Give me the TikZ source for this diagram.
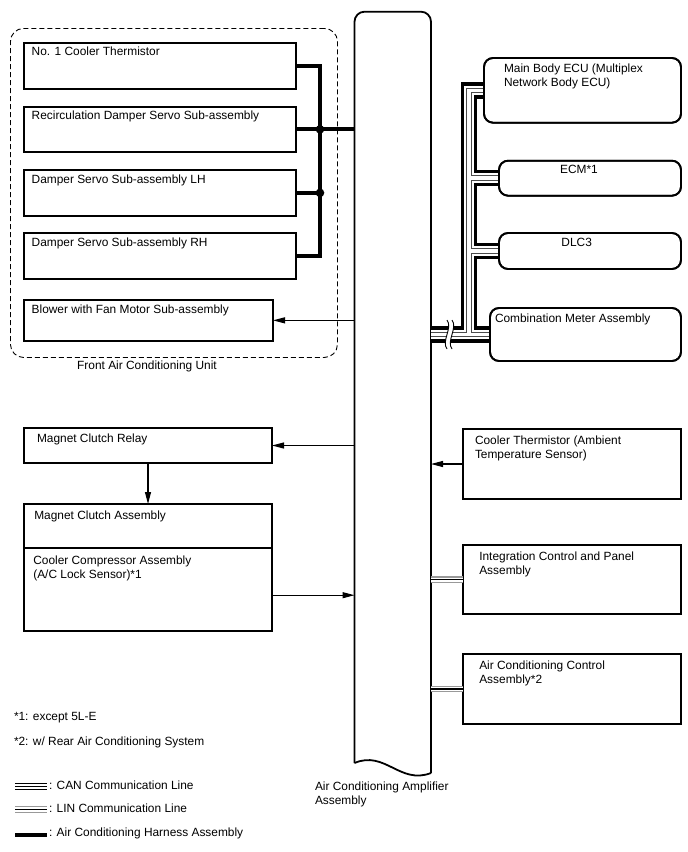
\documentclass[tikz,border=0pt]{standalone}
\usepackage{fontspec}
\setmainfont{Liberation Sans}
\usetikzlibrary{arrows.meta,calc}
\newcommand{\twoline}[2]{\vtop{\hbox{#1}\hbox{#2}}}
\begin{document}
\begin{tikzpicture}[x=1pt,y=-1pt,
  font=\fontsize{11.9}{14}\selectfont,
  box/.style={draw, line width=1.8pt, fill=white, inner sep=0pt, outer sep=0pt, anchor=north west},
  rbox/.style={box, rounded corners=9pt},
  lbl/.style={anchor=base west, inner sep=0pt, outer sep=0pt},
  clbl/.style={anchor=base, inner sep=0pt, outer sep=0pt},
  harness/.style={line width=3.8pt, line join=miter},
  arr/.style={-{Triangle[length=12pt,width=6pt]}, line width=1.1pt},
  canbus/.style={line width=16.5pt, line join=miter, draw=black,
     postaction={draw=white, line width=9.5pt},
     postaction={draw=gray!60!black, line width=5.5pt},
     postaction={draw=white, line width=3.5pt}},
  linbus/.style={line width=6.5pt, draw=gray!80,
     postaction={draw=white, line width=4pt},
     postaction={draw=black, line width=1.2pt}},
  canlg/.style={line width=7pt, draw=black,
     postaction={draw=white, line width=4.6pt},
     postaction={draw=black, line width=1.2pt}},
  linlg/.style={line width=7pt, draw=gray!80,
     postaction={draw=white, line width=4.6pt},
     postaction={draw=black, line width=1.2pt}}
]
\useasboundingbox (0,0) rectangle (688,852);

% amplifier
\node[inner sep=0pt, outer sep=0pt, minimum width=76.5pt, minimum height=755pt, anchor=north west] (amp) at (354.5,11.7) {};
\draw[line width=1.8pt, rounded corners=10pt] (354.5,763) -- (amp.north west) -- (amp.north east) -- (431,773);
\draw[line width=1.8pt] (354.5,763) .. controls (385,750) and (400,785) .. (431,773);

% front unit container
\node[draw, dashed, dash pattern=on 5pt off 3pt, line width=0.9pt, rounded corners=13pt,
      inner sep=0pt, minimum width=327pt, minimum height=329pt, anchor=north west] (fau) at (10,28) {};

% front unit boxes
\node[box, minimum width=272pt, minimum height=46.3pt] (no1) at (24,42.7) {};
\node[box, minimum width=272pt, minimum height=45.3pt] (rec) at (24,106.7) {};
\node[box, minimum width=272pt, minimum height=45.7pt] (lh) at (24,170) {};
\node[box, minimum width=272pt, minimum height=46pt] (rh) at (24,233) {};
\node[box, minimum width=249pt, minimum height=40.7pt] (blw) at (24,300) {};

% harness
\coordinate (busx) at (320,0);
\draw[harness] (no1.east) -| (busx |- rh.east) -- (rh.east);
\draw[harness] (rec.east) -- (amp.west |- rec.east);
\draw[harness] (lh.east) -- (busx |- lh.east);
\fill (busx |- rec.east) circle (4.3);
\fill (busx |- lh.east) circle (4.3);

% lower left
\node[box, minimum width=248pt, minimum height=35pt] (rly) at (24,428) {};
\node[box, minimum width=248pt, minimum height=43.7pt] (mca) at (24,504) {};
\node[box, minimum width=248pt, minimum height=83pt] (cca) at (24,547.7) {};

% right side
\coordinate (canx) at (469,0);
\node[rbox, minimum width=197pt, minimum height=64.7pt] (ecu) at (484,58) {};
\node[rbox, minimum width=182pt, minimum height=35pt] (ecm) at (499,160.7) {};
\node[rbox, minimum width=182pt, minimum height=36pt] (dlc) at (499,233) {};
\node[rbox, minimum width=191pt, minimum height=53pt] (cmb) at (490,308) {};
\draw[canbus] (amp.east |- cmb.west) -- (cmb.west)
  (canx |- cmb.west) -- (canx |- ecu.west) -- (ecu.west)
  (canx |- ecm.west) -- (ecm.west)
  (canx |- dlc.west) -- (dlc.west);
% redraw box borders over bus ends
\draw[line width=1.8pt, rounded corners=9pt] (ecu.north west) rectangle (ecu.south east);
\draw[line width=1.8pt, rounded corners=9pt] (ecm.north west) rectangle (ecm.south east);
\draw[line width=1.8pt, rounded corners=9pt] (dlc.north west) rectangle (dlc.south east);
\draw[line width=1.8pt, rounded corners=9pt] (cmb.north west) rectangle (cmb.south east);
% break mark
\coordinate (brk) at (449.5,334.5);
\fill[white] (447,320) .. controls (453,328) and (441,341) .. (447,349) -- (452,349) .. controls (446,341) and (458,328) .. (452,320) -- cycle;
\draw[line width=0.9pt] (447,320) .. controls (453,328) and (441,341) .. (447,349);
\draw[line width=0.9pt] (452,320) .. controls (458,328) and (446,341) .. (452,349);

\node[box, minimum width=218pt, minimum height=70pt] (cth) at (462.7,429) {};
\node[box, minimum width=218pt, minimum height=69pt] (icp) at (462.7,545) {};
\node[box, minimum width=218pt, minimum height=70pt] (acc) at (462.7,654) {};
\draw[linbus] (amp.east |- icp.west) -- (icp.west);
\draw[linbus] (amp.east |- acc.west) -- (acc.west);

% arrows
\draw[arr] (amp.west |- blw.east) -- (blw.east);
\draw[arr] (amp.west |- rly.east) -- (rly.east);
\draw[arr] (rly.south) -- (mca.north);
\coordinate (ccaout) at ([yshift=-6pt]cca.east);
\draw[arr] (ccaout) -- (amp.west |- ccaout);
\draw[arr] (cth.west) -- (amp.east |- cth.west);

% labels
\node[lbl] (t1) at (31.7,55) {No. 1 Cooler Thermistor};
\node[lbl] (t2) at (31.7,119) {Recirculation Damper Servo Sub-assembly};
\node[lbl] (t3) at (31.7,183.3) {Damper Servo Sub-assembly LH};
\node[lbl] (t4) at (31.7,246.7) {Damper Servo Sub-assembly RH};
\node[lbl] (t5) at (31.7,313.3) {Blower with Fan Motor Sub-assembly};
\node[clbl] (t6) at (147,369) {Front Air Conditioning Unit};
\node[lbl] (t7) at (37,442.7) {Magnet Clutch Relay};
\node[lbl] (t8) at (34.3,519) {Magnet Clutch Assembly};
\node[lbl] (t9) at (33.3,564.3) {\twoline{Cooler Compressor Assembly}{(A/C Lock Sensor)*1}};
\node[lbl] (t10) at (504,72.3) {\twoline{Main Body ECU (Multiplex}{Network Body ECU)}};
\node[clbl] (t11) at (579,173.3) {ECM*1};
\node[clbl] (t12) at (576.7,246) {DLC3};
\node[lbl] (t13) at (495,322.7) {Combination Meter Assembly};
\node[lbl] (t14) at (475,444) {\twoline{Cooler Thermistor (Ambient}{Temperature Sensor)}};
\node[lbl] (t15) at (479.3,560) {\twoline{Integration Control and Panel}{Assembly}};
\node[lbl] (t16) at (479.3,669.3) {\twoline{Air Conditioning Control}{Assembly*2}};
\node[lbl] (t17) at (315,790) {\twoline{Air Conditioning Amplifier}{Assembly}};
\node[lbl] (n1) at (14,720) {*1: except 5L-E};
\node[lbl] (n2) at (14,745) {*2: w/ Rear Air Conditioning System};

% legend
\coordinate (lg1a) at (15,786.5); \coordinate (lg1b) at (47,786.5);
\coordinate (lg2a) at (15,809.5); \coordinate (lg2b) at (47,809.5);
\coordinate (lg3a) at (15,835);   \coordinate (lg3b) at (47,835);
\draw[canlg] (lg1a) -- (lg1b);
\draw[linlg] (lg2a) -- (lg2b);
\draw[line width=4pt] (lg3a) -- (lg3b);
\node[lbl] (l1) at (49,789) {: CAN Communication Line};
\node[lbl] (l2) at (49,812) {: LIN Communication Line};
\node[lbl] (l3) at (49,836) {: Air Conditioning Harness Assembly};
\end{tikzpicture}
\end{document}
